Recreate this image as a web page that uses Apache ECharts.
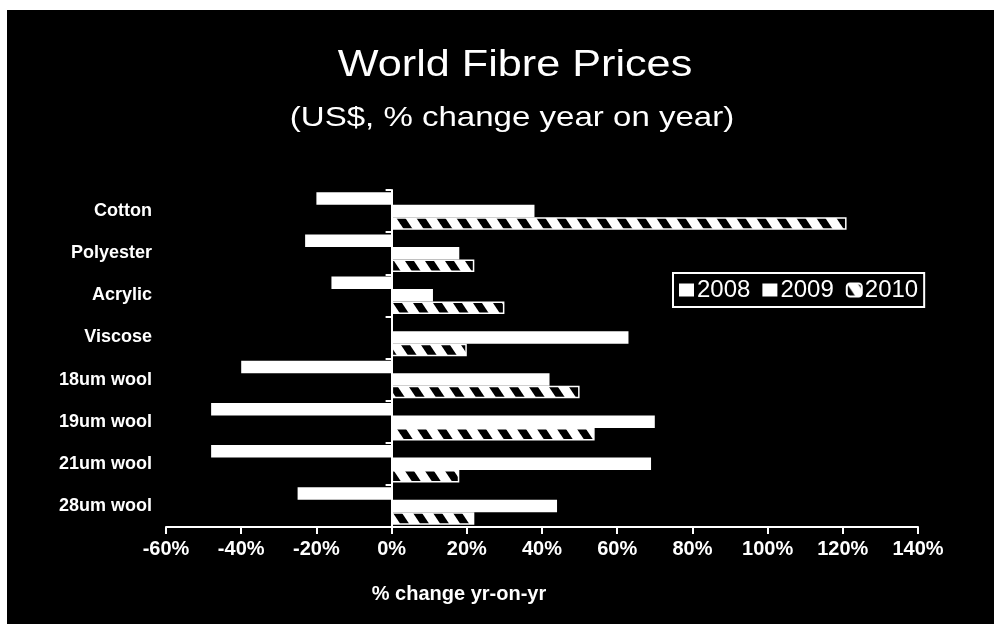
<!DOCTYPE html>
<html>
<head>
<meta charset="utf-8">
<script src="https://cdn.jsdelivr.net/npm/echarts@6/dist/echarts.min.js"></script>
<style>
html,body{margin:0;padding:0;background:#fff;}
#chart{width:994px;height:624px;}
</style>
</head>
<body>
<div id="chart"></div>
<script>
// ---- data ----
var categories = ['Cotton', 'Polyester', 'Acrylic', 'Viscose', '18um wool', '19um wool', '21um wool', '28um wool'];
var seriesNames = ['2008', '2009', '2010'];
var values2008 = [-20, -23, -16, 0, -40, -48, -48, -25];
var values2009 = [38, 18, 11, 63, 42, 70, 69, 44];
var values2010 = [121, 22, 30, 20, 50, 54, 18, 22];
var xMin = -60, xMax = 140, xStep = 20;
var titleText = 'World Fibre Prices';
var subtitleText = '(US$, % change year on year)';
var xAxisTitle = '% change yr-on-yr';

// ---- hatch pattern (white diagonal stripes on black) ----
function makeHatch() {
  var c = document.createElement('canvas');
  c.width = 20; c.height = 30;
  var g = c.getContext('2d');
  g.fillStyle = '#000';
  g.fillRect(0, 0, 20, 30);
  g.fillStyle = '#fff';
  for (var k = -40; k <= 20; k += 20) {
    g.beginPath();
    g.moveTo(k, 0);
    g.lineTo(k + 11, 0);
    g.lineTo(k + 31, 30);
    g.lineTo(k + 20, 30);
    g.closePath();
    g.fill();
  }
  return c;
}
var hatch = makeHatch();

var FONT = '"Liberation Sans", Arial, sans-serif';
var chart = echarts.init(document.getElementById('chart'), null, {renderer: 'canvas'});

var option = {
  backgroundColor: '#000',
  animation: false,
  textStyle: {fontFamily: FONT, color: '#fff'},
  graphic: [
    {type: 'rect', shape: {x: 0, y: 0, width: 994, height: 10}, style: {fill: '#fff'}, z: 100},
    {type: 'rect', shape: {x: 0, y: 0, width: 7, height: 624}, style: {fill: '#fff'}, z: 100},
    {type: 'text', x: 515, y: 66, scaleX: 1.2, scaleY: 1,
     style: {text: titleText, fill: '#fff', font: '36px ' + FONT, textAlign: 'center', textVerticalAlign: 'middle'}},
    {type: 'text', x: 512, y: 118, scaleX: 1.18, scaleY: 1,
     style: {text: subtitleText, fill: '#fff', font: '28px ' + FONT, textAlign: 'center', textVerticalAlign: 'middle'}}
  ],
  legend: {
    data: [
      {name: seriesNames[0], icon: 'rect'},
      {name: seriesNames[1], icon: 'rect'},
      {name: seriesNames[2], icon: 'roundRect'}
    ],
    left: 673, top: 273,
    orient: 'horizontal',
    borderColor: '#fff', borderWidth: 2,
    padding: [5, 6, 5, 6],
    itemWidth: 15, itemHeight: 13, itemGap: 12,
    textStyle: {color: '#fff', fontSize: 24, fontFamily: FONT, padding: [0, 0, 0, -2]}
  },
  grid: {left: 166, right: 76, top: 190, bottom: 97, containLabel: false},
  xAxis: {
    type: 'value', min: xMin, max: xMax, interval: xStep,
    name: xAxisTitle, nameLocation: 'middle', nameGap: 57,
    nameTextStyle: {color: '#fff', fontSize: 20, fontWeight: 'bold', fontFamily: FONT, padding: [0, 166, 0, 0]},
    axisLine: {show: true, onZero: false, lineStyle: {color: '#fff', width: 2}},
    axisTick: {show: true, length: 7, lineStyle: {color: '#fff', width: 2}},
    axisLabel: {color: '#fff', fontSize: 20, fontWeight: 'bold', fontFamily: FONT, margin: 12, formatter: '{value}%'},
    splitLine: {show: false}
  },
  yAxis: [
    {
      type: 'category', data: categories, inverse: true,
      axisLine: {show: false, onZero: false},
      axisTick: {show: false},
      axisLabel: {color: '#fff', fontSize: 18, fontWeight: 'bold', fontFamily: FONT, margin: 14}
    },
    {
      type: 'category', data: categories, inverse: true, position: 'left',
      axisLine: {show: true, onZero: true, lineStyle: {color: '#fff', width: 2}},
      axisTick: {show: true, length: 6, lineStyle: {color: '#fff', width: 2}},
      axisLabel: {show: false}
    }
  ],
  series: [
    {name: seriesNames[0], type: 'bar', yAxisIndex: 0, data: values2008,
     barCategoryGap: '11%', barGap: '0%', itemStyle: {color: '#fff'}},
    {name: seriesNames[1], type: 'bar', yAxisIndex: 0, data: values2009,
     barCategoryGap: '11%', barGap: '0%', itemStyle: {color: '#fff'}},
    {name: seriesNames[2], type: 'bar', yAxisIndex: 0, data: values2010,
     barCategoryGap: '11%', barGap: '0%',
     itemStyle: {color: {image: hatch, repeat: 'repeat'}, borderColor: '#fff', borderWidth: 1.5}}
  ]
};
chart.setOption(option);
</script>
</body>
</html>
